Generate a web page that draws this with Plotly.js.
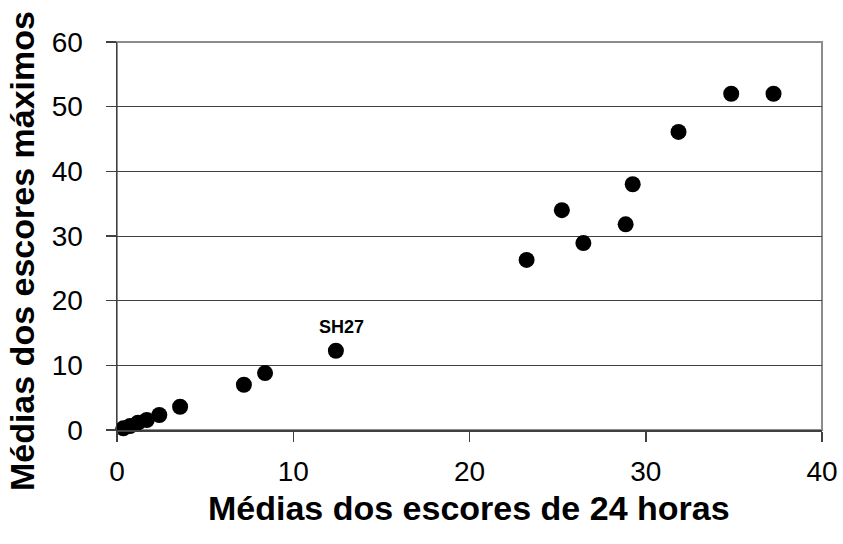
<!DOCTYPE html>
<html>
<head>
<meta charset="utf-8">
<script src="https://cdn.plot.ly/plotly-3.0.1.min.js"></script>
<style>body{margin:0;padding:0;background:#fff}#chart{width:843px;height:544px}</style>
</head>
<body>
<div id="chart"></div>
<script>
var xValues = [0.36, 0.74, 1.19, 1.69, 2.40, 3.58, 7.2, 8.4, 12.42, 23.24, 25.24, 26.46, 28.86, 29.26, 31.86, 34.85, 37.25];
var yValues = [0.26, 0.62, 1.13, 1.55, 2.32, 3.6, 7.0, 8.8, 12.26, 26.3, 34.0, 28.9, 31.8, 38.0, 46.1, 52.0, 52.0];
var labelText = "SH27";
var labelX = 12.42, labelY = 12.26;
var xTitle = "Médias dos escores de 24 horas";
var yTitle = "Médias dos escores máximos";

var trace = {
  x: xValues, y: yValues, mode: 'markers', type: 'scatter',
  marker: {color: '#000', size: 16}, hoverinfo: 'skip', cliponaxis: false
};
var layout = {
  width: 843, height: 544,
  margin: {l: 117, r: 21, t: 42, b: 114},
  paper_bgcolor: '#fff', plot_bgcolor: '#fff',
  showlegend: false,
  font: {family: 'Liberation Sans, Arial, sans-serif', color: '#000'},
  xaxis: {
    range: [0, 40], dtick: 10, tick0: 0, showgrid: false, zeroline: false,
    showline: true, linecolor: '#404040', linewidth: 1.5,
    ticks: 'outside', ticklen: 10, tickcolor: '#404040', tickwidth: 1.5,
    tickfont: {size: 28}, ticklabelstandoff: 6
  },
  yaxis: {
    range: [0, 60], dtick: 10, tick0: 0, showgrid: true, gridcolor: '#404040', gridwidth: 1,
    zeroline: false, showline: true, linecolor: '#404040', linewidth: 1.5,
    ticks: 'outside', ticklen: 10, tickcolor: '#404040', tickwidth: 1.5,
    tickfont: {size: 28}, ticklabelstandoff: 17
  },
  shapes: [{type: 'rect', xref: 'paper', yref: 'paper', x0: 0, x1: 1, y0: 0, y1: 1,
            line: {color: '#8c8c8c', width: 2}, layer: 'below'}],
  annotations: [
    {x: labelX, y: labelY, xref: 'x', yref: 'y', text: '<b>' + labelText + '</b>',
     showarrow: false, yshift: 24, xshift: 6, font: {size: 18}},
    {x: 0.4993, y: -0.2, xref: 'paper', yref: 'paper', xanchor: 'center', yanchor: 'middle',
     text: '<b>' + xTitle + '</b>', showarrow: false, font: {size: 34}},
    {x: -0.1348, y: 0.461, xref: 'paper', yref: 'paper', xanchor: 'center', yanchor: 'middle',
     textangle: -90, text: '<b>' + yTitle + '</b>', showarrow: false, font: {size: 34}}
  ]
};
Plotly.newPlot('chart', [trace], layout, {staticPlot: true});
</script>
</body>
</html>
